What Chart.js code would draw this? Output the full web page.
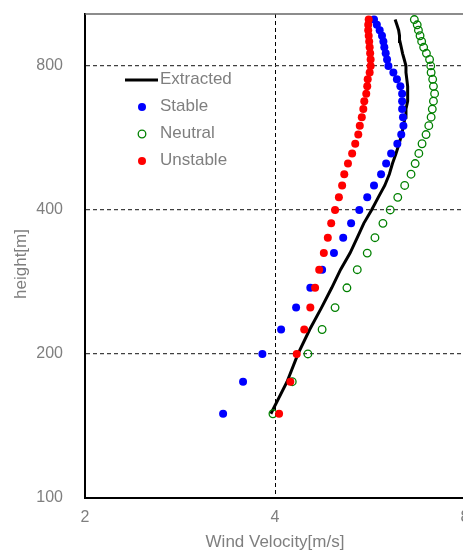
<!DOCTYPE html>
<html>
<head>
<meta charset="utf-8">
<script src="https://cdn.jsdelivr.net/npm/chart.js@4/dist/chart.umd.min.js"></script>
<style>
  html, body { margin: 0; padding: 0; background: #fff; width: 463px; height: 551px; overflow: hidden; }
  canvas { display: block; }
</style>
</head>
<body>
<canvas id="profile" width="480" height="551"></canvas>
<script>
// Measurement heights [m]
const heights = [150, 175, 200, 225, 250, 275, 300, 325, 350, 375, 400, 425, 450, 475, 500,
                 525, 550, 575, 600, 625, 650, 675, 700, 725, 750, 775, 800, 825, 850, 875,
                 900, 925, 950, 975, 1000];

// Wind velocity [m/s] at each height
const extracted = [3.94, 4.18, 4.35, 4.54, 4.74, 4.92, 5.08, 5.26, 5.40, 5.53, 5.69, 5.83, 5.97, 6.07, 6.14,
                   6.22, 6.29, 6.35, 6.39, 6.43, 6.45, 6.49, 6.49, 6.49, 6.47, 6.45, 6.45, 6.41, 6.37, 6.34,
                   6.31, 6.30, 6.28, 6.24, 6.20];
const stable    = [3.31, 3.56, 3.82, 4.09, 4.32, 4.55, 4.75, 4.96, 5.13, 5.28, 5.44, 5.60, 5.74, 5.89, 6.00,
                   6.11, 6.25, 6.34, 6.39, 6.38, 6.36, 6.36, 6.36, 6.32, 6.24, 6.16, 6.05, 6.02, 5.99, 5.96,
                   5.94, 5.91, 5.86, 5.80, 5.74];
const neutral   = [3.97, 4.26, 4.51, 4.75, 4.98, 5.20, 5.40, 5.60, 5.76, 5.93, 6.09, 6.26, 6.42, 6.57, 6.67,
                   6.76, 6.84, 6.94, 7.01, 7.07, 7.10, 7.13, 7.16, 7.13, 7.11, 7.07, 7.06, 7.03, 6.95, 6.88,
                   6.83, 6.79, 6.75, 6.72, 6.65];
const unstable  = [4.06, 4.23, 4.33, 4.45, 4.55, 4.63, 4.70, 4.78, 4.85, 4.91, 4.98, 5.05, 5.11, 5.15, 5.22,
                   5.30, 5.36, 5.42, 5.45, 5.49, 5.52, 5.54, 5.58, 5.60, 5.61, 5.65, 5.67, 5.67, 5.66, 5.65,
                   5.64, 5.63, 5.62, 5.62, 5.63];

const seriesNames = ['Extracted', 'Stable', 'Neutral', 'Unstable'];
const xTicks = [2, 4, 8];
const yTicks = [100, 200, 400, 800];

const FONT = "'Liberation Sans', Arial, sans-serif";
const TEXT = '#7f7f7f';

const toPoints = vals => vals.map((v, i) => ({ x: v, y: heights[i] }));

// Top frame line, inset legend and vertical axis title
const decorations = {
  id: 'decorations',
  afterDraw(chart) {
    const { ctx, chartArea: a } = chart;
    ctx.save();
    ctx.strokeStyle = '#666';
    ctx.lineWidth = 1.5;
    ctx.beginPath();
    ctx.moveTo(a.left, a.top);
    ctx.lineTo(a.right, a.top);
    ctx.stroke();

    // legend
    const lx = 142, tx = 160, y0 = 79, step = 27;
    ctx.font = '17px ' + FONT;
    ctx.textAlign = 'left';
    ctx.textBaseline = 'middle';
    chart.data.datasets.forEach((ds, i) => {
      const y = y0 + i * step;
      if (ds.showLine) {
        ctx.strokeStyle = ds.borderColor;
        ctx.lineWidth = ds.borderWidth;
        ctx.beginPath();
        ctx.moveTo(125, y + 1);
        ctx.lineTo(158, y + 1);
        ctx.stroke();
      } else {
        ctx.beginPath();
        ctx.arc(lx, y + 1, ds.pointRadius, 0, Math.PI * 2);
        if (ds.backgroundColor !== 'rgba(0,0,0,0)') {
          ctx.fillStyle = ds.backgroundColor;
          ctx.fill();
        }
        if (ds.borderWidth) {
          ctx.strokeStyle = ds.borderColor;
          ctx.lineWidth = ds.borderWidth;
          ctx.stroke();
        }
      }
      ctx.fillStyle = TEXT;
      ctx.fillText(ds.label, tx, y);
    });

    // y axis title
    ctx.translate(21, 264);
    ctx.rotate(-Math.PI / 2);
    ctx.textAlign = 'center';
    ctx.textBaseline = 'middle';
    ctx.font = '17px ' + FONT;
    ctx.fillStyle = TEXT;
    ctx.fillText('height[m]', 0, 0);
    ctx.restore();
  }
};

new Chart(document.getElementById('profile'), {
  type: 'scatter',
  data: {
    datasets: [
      {
        label: seriesNames[0], data: toPoints(extracted), showLine: true,
        borderColor: '#000000', borderWidth: 3, pointRadius: 0, fill: false, order: 4
      },
      {
        label: seriesNames[1], data: toPoints(stable), showLine: false,
        backgroundColor: '#0000ff', borderColor: '#0000ff', borderWidth: 0, pointRadius: 4, order: 3
      },
      {
        label: seriesNames[2], data: toPoints(neutral), showLine: false,
        backgroundColor: 'rgba(0,0,0,0)', borderColor: '#008000', borderWidth: 1.3, pointRadius: 3.8, order: 2
      },
      {
        label: seriesNames[3], data: toPoints(unstable), showLine: false,
        backgroundColor: '#ff0000', borderColor: '#ff0000', borderWidth: 0, pointRadius: 4, order: 1
      }
    ]
  },
  options: {
    responsive: false,
    animation: false,
    events: [],
    layout: { padding: { left: 0, right: 15, top: 14, bottom: 0 } },
    plugins: { legend: { display: false }, tooltip: { enabled: false } },
    scales: {
      x: {
        type: 'logarithmic',
        min: 2, max: 8,
        afterBuildTicks: s => { s.ticks = xTicks.map(v => ({ value: v })); },
        afterFit: s => { s.height = 53; s.paddingLeft = 0; s.paddingRight = 0; },
        ticks: {
          callback: v => String(v), color: TEXT, padding: 10, maxRotation: 0, autoSkip: false,
          font: { size: 16, family: FONT }
        },
        grid: {
          drawTicks: false, lineWidth: 1,
          color: c => (c.tick && c.tick.value === 4 ? '#000000' : 'rgba(0,0,0,0)')
        },
        border: { display: true, color: '#000000', width: 2, dash: [4, 3] },
        title: {
          display: true, text: 'Wind Velocity[m/s]', color: TEXT,
          font: { size: 17, family: FONT, lineHeight: 1 }, padding: { top: 0, bottom: 0 }
        }
      },
      y: {
        type: 'logarithmic',
        min: 100, max: 1027,
        afterBuildTicks: s => { s.ticks = yTicks.map(v => ({ value: v })); },
        afterFit: s => { s.width = 85; s.paddingTop = 0; s.paddingBottom = 0; },
        ticks: {
          callback: v => String(v), color: TEXT, padding: 22, autoSkip: false,
          font: { size: 16, family: FONT }
        },
        grid: {
          drawTicks: false, lineWidth: 1.3,
          color: c => (c.tick && c.tick.value > 100 ? '#404040' : 'rgba(0,0,0,0)')
        },
        border: { display: true, color: '#000000', width: 2, dash: [4, 3] }
      }
    }
  },
  plugins: [decorations]
});
</script>
</body>
</html>
